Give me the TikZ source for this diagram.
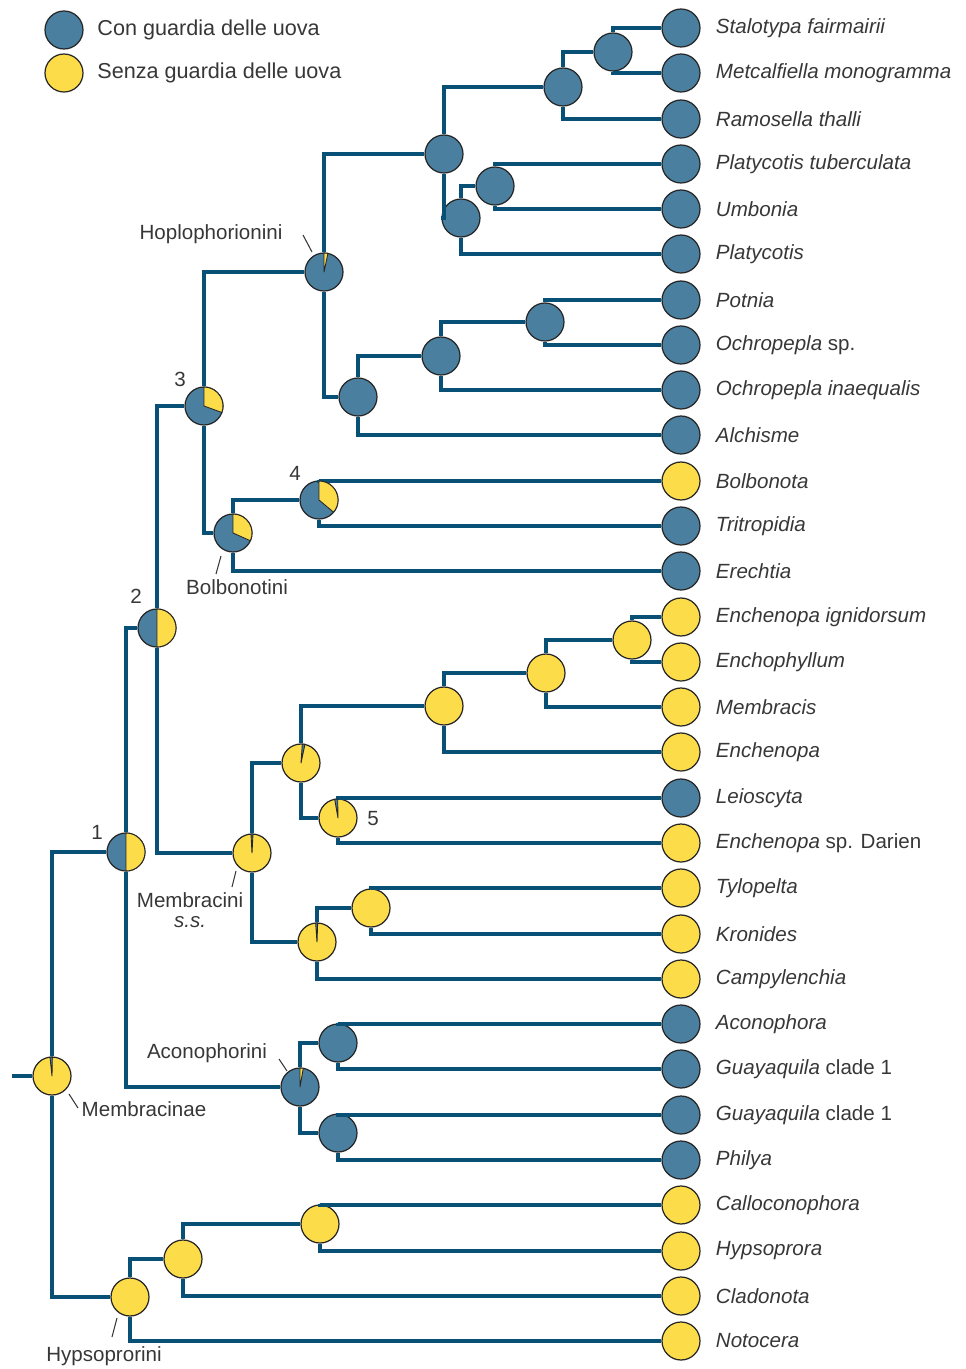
\documentclass[tikz,border=0pt]{standalone}
\usepackage{fontspec}
\setsansfont{Liberation Sans}
\usetikzlibrary{positioning}

\definecolor{branchblue}{RGB}{8,80,117}
\definecolor{guardblue}{RGB}{74,127,160}
\definecolor{noguard}{RGB}{253,220,74}
\definecolor{labelgray}{RGB}{55,55,55}

\begin{document}
\begin{tikzpicture}[x=0.02cm,y=-0.02cm,node distance=0.3cm,
  font=\sffamily\fontsize{11.7}{14}\selectfont,text=labelgray,
  branch/.style={draw=branchblue,line width=2.8pt},
  con/.style={circle,draw=black!85,line width=0.7pt,fill=guardblue,minimum size=0.76cm,inner sep=0pt},
  senza/.style={con,fill=noguard},
  taxon/.style={inner sep=0pt,font=\sffamily\itshape\fontsize{11.7}{14}\selectfont},
  legendtext/.style={inner sep=0pt,font=\sffamily\fontsize{12.3}{14}\selectfont},
  wedge/.style={draw=black!85,line width=0.5pt,line join=round},
  tick/.style={draw=labelgray,line width=0.6pt}]
\useasboundingbox (0,0) rectangle (965,1369);

% legend
\node[con] (leg-con) at (64,30) {};
\node[senza] (leg-senza) at (64,73) {};
\node[legendtext,right=0.27cm of leg-con] (leg-con-t) {Con guardia delle uova};
\node[legendtext,right=0.27cm of leg-senza] (leg-senza-t) {Senza guardia delle uova};

% leaves
\node[con] (stal) at (681,28) {};
\node[con] (metc) at (681,73) {};
\node[con] (ramo) at (681,119) {};
\node[con] (platu) at (681,164) {};
\node[con] (umbo) at (681,209) {};
\node[con] (platy) at (681,254) {};
\node[con] (potn) at (681,300) {};
\node[con] (ochs) at (681,345) {};
\node[con] (ochi) at (681,390) {};
\node[con] (alch) at (681,435) {};
\node[senza] (bolb) at (681,481) {};
\node[con] (trit) at (681,526) {};
\node[con] (erec) at (681,571) {};
\node[senza] (enig) at (681,617) {};
\node[senza] (encp) at (681,662) {};
\node[senza] (memb) at (681,707) {};
\node[senza] (ench2) at (681,752) {};
\node[con] (leio) at (681,798) {};
\node[senza] (endar) at (681,843) {};
\node[senza] (tylo) at (681,888) {};
\node[senza] (kron) at (681,934) {};
\node[senza] (camp) at (681,979) {};
\node[con] (acon) at (681,1024) {};
\node[con] (guay1) at (681,1069) {};
\node[con] (guay2) at (681,1115) {};
\node[con] (phil) at (681,1160) {};
\node[senza] (call) at (681,1205) {};
\node[senza] (hyps) at (681,1251) {};
\node[senza] (clad) at (681,1296) {};
\node[senza] (noto) at (681,1341) {};

\node[taxon,right=of stal] (stal-t) {Stalotypa fairmairii};
\node[taxon,right=of metc] (metc-t) {Metcalfiella monogramma};
\node[taxon,right=of ramo] (ramo-t) {Ramosella thalli};
\node[taxon,right=of platu] (platu-t) {Platycotis tuberculata};
\node[taxon,right=of umbo] (umbo-t) {Umbonia};
\node[taxon,right=of platy] (platy-t) {Platycotis};
\node[taxon,right=of potn] (potn-t) {Potnia};
\node[taxon,right=of ochs] (ochs-t) {Ochropepla \upshape sp.};
\node[taxon,right=of ochi] (ochi-t) {Ochropepla inaequalis};
\node[taxon,right=of alch] (alch-t) {Alchisme};
\node[taxon,right=of bolb] (bolb-t) {Bolbonota};
\node[taxon,right=of trit] (trit-t) {Tritropidia};
\node[taxon,right=of erec] (erec-t) {Erechtia};
\node[taxon,right=of enig] (enig-t) {Enchenopa ignidorsum};
\node[taxon,right=of encp] (encp-t) {Enchophyllum};
\node[taxon,right=of memb] (memb-t) {Membracis};
\node[taxon,right=of ench2] (ench2-t) {Enchenopa};
\node[taxon,right=of leio] (leio-t) {Leioscyta};
\node[taxon,right=of endar] (endar-t) {Enchenopa \upshape sp. Darien};
\node[taxon,right=of tylo] (tylo-t) {Tylopelta};
\node[taxon,right=of kron] (kron-t) {Kronides};
\node[taxon,right=of camp] (camp-t) {Campylenchia};
\node[taxon,right=of acon] (acon-t) {Aconophora};
\node[taxon,right=of guay1] (guay1-t) {Guayaquila \upshape clade 1};
\node[taxon,right=of guay2] (guay2-t) {Guayaquila \upshape clade 1};
\node[taxon,right=of phil] (phil-t) {Philya};
\node[taxon,right=of call] (call-t) {Calloconophora};
\node[taxon,right=of hyps] (hyps-t) {Hypsoprora};
\node[taxon,right=of clad] (clad-t) {Cladonota};
\node[taxon,right=of noto] (noto-t) {Notocera};

% ancestral states
\node[con] (stalmet) at (613,52) {};
\node[con] (n-ram) at (563,87) {};
\node[con] (platumb) at (495,186) {};
\node[con] (n-platy) at (461,218) {};
\node[con] (n-upper) at (444,154) {};
\node[con] (potoch) at (545,322) {};
\node[con] (n-ochin) at (441,356) {};
\node[con] (n-alch) at (358,397) {};
\node[con] (hoplo) at (324,272) {};
\node[con] (n4) at (319,500) {};
\node[con] (bolbo) at (233,533) {};
\node[con] (n3) at (204,406) {};
\node[con] (n2) at (157,628) {};
\node[senza] (ench) at (632,640) {};
\node[senza] (n-memb) at (546,673) {};
\node[senza] (n-enche) at (444,706) {};
\node[senza] (n5) at (338,818) {};
\node[senza] (n-upmem) at (301,763) {};
\node[senza] (tykr) at (371,908) {};
\node[senza] (n-camp) at (317,942) {};
\node[senza] (membr) at (252,853) {};
\node[con] (aco1) at (338,1043) {};
\node[con] (aco2) at (338,1133) {};
\node[con] (acono) at (300,1087) {};
\node[con] (n1) at (126,852) {};
\node[senza] (hyp1) at (320,1224) {};
\node[senza] (hyp2) at (183,1259) {};
\node[senza] (hypso) at (130,1297) {};
\node[senza] (root) at (52,1076) {};
\coordinate (stem) at (12,1076);

% branches
\draw[branch] (stalmet) |- (stal);
\draw[branch] (stalmet) |- (metc);
\draw[branch] (n-ram) |- (stalmet);
\draw[branch] (n-ram) |- (ramo);
\draw[branch] (platumb) |- (platu);
\draw[branch] (platumb) |- (umbo);
\draw[branch] (n-platy) |- (platumb);
\draw[branch] (n-platy) |- (platy);
\draw[branch] (n-upper) |- (n-ram);
\draw[branch] (n-upper) |- (n-platy);
\draw[branch] (potoch) |- (potn);
\draw[branch] (potoch) |- (ochs);
\draw[branch] (n-ochin) |- (potoch);
\draw[branch] (n-ochin) |- (ochi);
\draw[branch] (n-alch) |- (n-ochin);
\draw[branch] (n-alch) |- (alch);
\draw[branch] (hoplo) |- (n-upper);
\draw[branch] (hoplo) |- (n-alch);
\draw[branch] (n4) |- (bolb);
\draw[branch] (n4) |- (trit);
\draw[branch] (bolbo) |- (n4);
\draw[branch] (bolbo) |- (erec);
\draw[branch] (n3) |- (hoplo);
\draw[branch] (n3) |- (bolbo);
\draw[branch] (n2) |- (n3);
\draw[branch] (n2) |- (membr);
\draw[branch] (ench) |- (enig);
\draw[branch] (ench) |- (encp);
\draw[branch] (n-memb) |- (ench);
\draw[branch] (n-memb) |- (memb);
\draw[branch] (n-enche) |- (n-memb);
\draw[branch] (n-enche) |- (ench2);
\draw[branch] (n5) |- (leio);
\draw[branch] (n5) |- (endar);
\draw[branch] (n-upmem) |- (n-enche);
\draw[branch] (n-upmem) |- (n5);
\draw[branch] (tykr) |- (tylo);
\draw[branch] (tykr) |- (kron);
\draw[branch] (n-camp) |- (tykr);
\draw[branch] (n-camp) |- (camp);
\draw[branch] (membr) |- (n-upmem);
\draw[branch] (membr) |- (n-camp);
\draw[branch] (aco1) |- (acon);
\draw[branch] (aco1) |- (guay1);
\draw[branch] (aco2) |- (guay2);
\draw[branch] (aco2) |- (phil);
\draw[branch] (acono) |- (aco1);
\draw[branch] (acono) |- (aco2);
\draw[branch] (n1) |- (n2);
\draw[branch] (n1) |- (acono);
\draw[branch] (hyp1) |- (call);
\draw[branch] (hyp1) |- (hyps);
\draw[branch] (hyp2) |- (hyp1);
\draw[branch] (hyp2) |- (clad);
\draw[branch] (hypso) |- (hyp2);
\draw[branch] (hypso) |- (noto);
\draw[branch] (root) |- (n1);
\draw[branch] (root) |- (hypso);
\draw[branch] (stem) -- (root);

% mixed states
\filldraw[wedge,fill=noguard] (hoplo.center) -- ++(90:0.38cm) arc[start angle=90,end angle=78,radius=0.38cm] -- cycle;
\filldraw[wedge,fill=noguard] (n4.center) -- ++(90:0.38cm) arc[start angle=90,end angle=-40,radius=0.38cm] -- cycle;
\filldraw[wedge,fill=noguard] (bolbo.center) -- ++(90:0.38cm) arc[start angle=90,end angle=-24,radius=0.38cm] -- cycle;
\filldraw[wedge,fill=noguard] (n3.center) -- ++(90:0.38cm) arc[start angle=90,end angle=-20,radius=0.38cm] -- cycle;
\filldraw[wedge,fill=noguard] (n2.center) -- ++(90:0.38cm) arc[start angle=90,end angle=-90,radius=0.38cm] -- cycle;
\filldraw[wedge,fill=noguard] (n1.center) -- ++(90:0.38cm) arc[start angle=90,end angle=-90,radius=0.38cm] -- cycle;
\filldraw[wedge,fill=noguard] (acono.center) -- ++(90:0.38cm) arc[start angle=90,end angle=80,radius=0.38cm] -- cycle;
\filldraw[wedge,fill=guardblue] (n5.center) -- ++(100:0.38cm) arc[start angle=100,end angle=91,radius=0.38cm] -- cycle;
\filldraw[wedge,fill=guardblue] (n-upmem.center) -- ++(86:0.38cm) arc[start angle=86,end angle=78,radius=0.38cm] -- cycle;
\filldraw[wedge,fill=guardblue] (membr.center) -- ++(93:0.38cm) arc[start angle=93,end angle=87,radius=0.38cm] -- cycle;
\filldraw[wedge,fill=guardblue] (n-camp.center) -- ++(94:0.38cm) arc[start angle=94,end angle=88,radius=0.38cm] -- cycle;
\filldraw[wedge,fill=guardblue] (root.center) -- ++(96:0.38cm) arc[start angle=96,end angle=89,radius=0.38cm] -- cycle;

% node numbers
\node (num1) at (97,832) {1};
\node (num2) at (136,596) {2};
\node (num3) at (180,379) {3};
\node (num4) at (295,473) {4};
\node (num5) at (373,819) {5};

% clade names
\node (hoplo-t) at (211,234) {Hoplophorionini};
\node (bolbo-t) at (237,587) {Bolbonotini};
\node[align=center,inner sep=0pt] (membr-t) at (190,910) {Membracini\\[-3pt]\itshape s.s.};
\node (acono-t) at (207,1053) {Aconophorini};
\node (root-t) at (144,1109) {Membracinae};
\node (hypso-t) at (104,1356) {Hypsoprorini};

\coordinate (hoplo-a) at (303,235);
\coordinate (hoplo-b) at (312,252);
\coordinate (bolbo-a) at (216,574);
\coordinate (bolbo-b) at (221,556);
\coordinate (membr-a) at (232,887);
\coordinate (membr-b) at (236,871);
\coordinate (acono-a) at (279,1059);
\coordinate (acono-b) at (287,1071);
\coordinate (root-a) at (69,1094);
\coordinate (root-b) at (78,1108);
\coordinate (hypso-a) at (112,1337);
\coordinate (hypso-b) at (117,1318);
\draw[tick] (hoplo-a) -- (hoplo-b);
\draw[tick] (bolbo-a) -- (bolbo-b);
\draw[tick] (membr-a) -- (membr-b);
\draw[tick] (acono-a) -- (acono-b);
\draw[tick] (root-a) -- (root-b);
\draw[tick] (hypso-a) -- (hypso-b);
\end{tikzpicture}
\end{document}
